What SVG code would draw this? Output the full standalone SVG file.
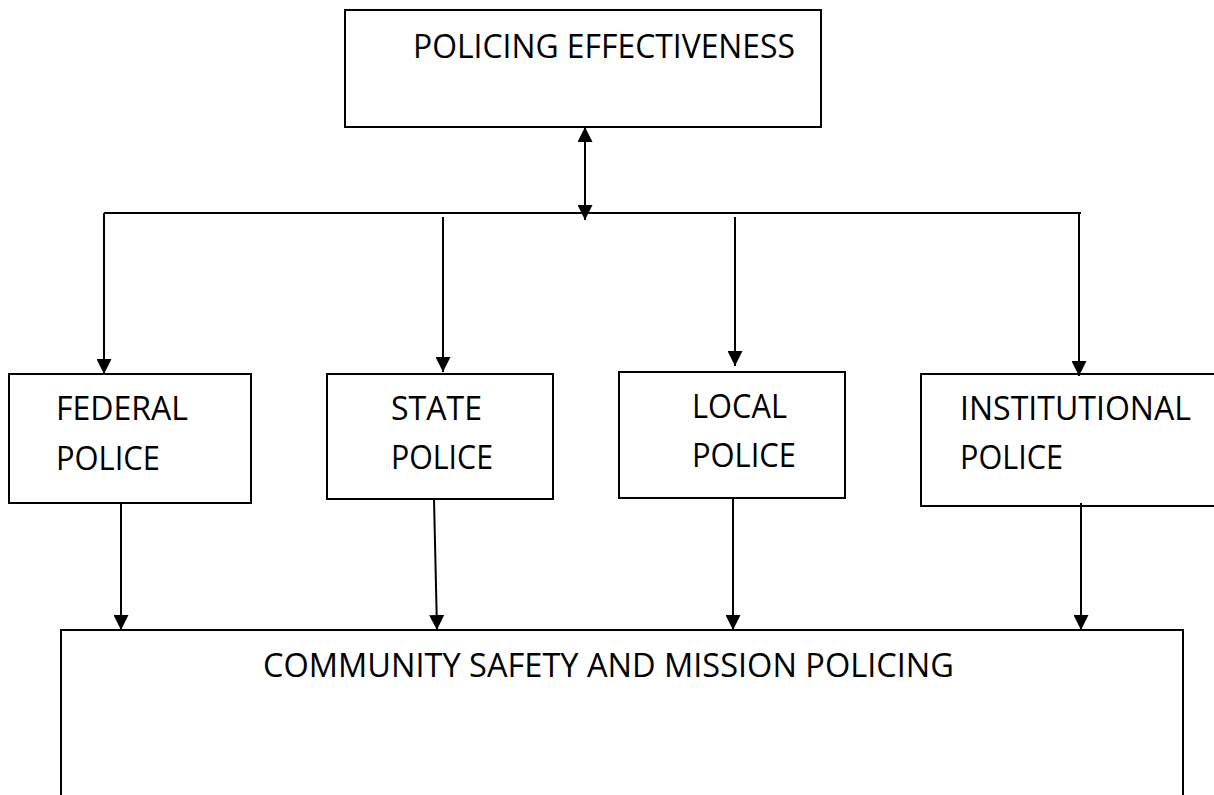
<svg xmlns="http://www.w3.org/2000/svg" width="1214" height="795" viewBox="0 0 1214 795">
<style>
.box{fill:#fff;stroke:#000;stroke-width:2}
.lbl{font-family:"Open Sans","Liberation Sans",sans-serif;font-size:33.5px;fill:#000}
.con{fill:none;stroke:#000;stroke-width:2}
</style>
<defs>
<marker id="ah" viewBox="0 0 15 15" refX="15" refY="7.5" markerWidth="15" markerHeight="15" markerUnits="userSpaceOnUse" orient="auto-start-reverse">
<path d="M0,0 L15,7.5 L0,15 z" fill="#000"/>
</marker>
</defs>
<rect width="1214" height="795" fill="#fff"/>
<g id="policing-effectiveness">
<rect class="box" x="345" y="10" width="476" height="117"/>
<text class="lbl" x="413" y="58" textLength="382" lengthAdjust="spacingAndGlyphs">POLICING EFFECTIVENESS</text>
</g>
<g id="federal-police">
<rect class="box" x="9" y="374" width="242" height="129"/>
<text class="lbl" x="56" y="420" textLength="132" lengthAdjust="spacingAndGlyphs">FEDERAL</text>
<text class="lbl" x="56" y="470" textLength="104" lengthAdjust="spacingAndGlyphs">POLICE</text>
</g>
<g id="state-police">
<rect class="box" x="327" y="374" width="226" height="125"/>
<text class="lbl" x="391" y="420" textLength="91" lengthAdjust="spacingAndGlyphs">STATE</text>
<text class="lbl" x="391" y="469" textLength="102" lengthAdjust="spacingAndGlyphs">POLICE</text>
</g>
<g id="local-police">
<rect class="box" x="619" y="372" width="226" height="126"/>
<text class="lbl" x="692" y="418" textLength="95" lengthAdjust="spacingAndGlyphs">LOCAL</text>
<text class="lbl" x="692" y="467" textLength="104" lengthAdjust="spacingAndGlyphs">POLICE</text>
</g>
<g id="institutional-police">
<rect class="box" x="921" y="374" width="300" height="132"/>
<text class="lbl" x="960" y="420" textLength="231" lengthAdjust="spacingAndGlyphs">INSTITUTIONAL</text>
<text class="lbl" x="960" y="469" textLength="103" lengthAdjust="spacingAndGlyphs">POLICE</text>
</g>
<g id="community-safety">
<path class="box" d="M61,800 V630 H1183 V800"/>
<text class="lbl" x="263" y="677" textLength="691" lengthAdjust="spacingAndGlyphs">COMMUNITY SAFETY AND MISSION POLICING</text>
</g>
<g id="connectors">
<path class="con" d="M104,213 H1081"/>
<path class="con" d="M585,127 V220" marker-start="url(#ah)" marker-end="url(#ah)"/>
<path class="con" d="M104,213 V374" marker-end="url(#ah)"/>
<path class="con" d="M443,217 V372" marker-end="url(#ah)"/>
<path class="con" d="M735,217 V366" marker-end="url(#ah)"/>
<path class="con" d="M1079,213 V376" marker-end="url(#ah)"/>
<path class="con" d="M121,503 V630" marker-end="url(#ah)"/>
<path class="con" d="M434,499 L437,630" marker-end="url(#ah)"/>
<path class="con" d="M733,499 V630" marker-end="url(#ah)"/>
<path class="con" d="M1081,503 V630" marker-end="url(#ah)"/>
</g>
</svg>
